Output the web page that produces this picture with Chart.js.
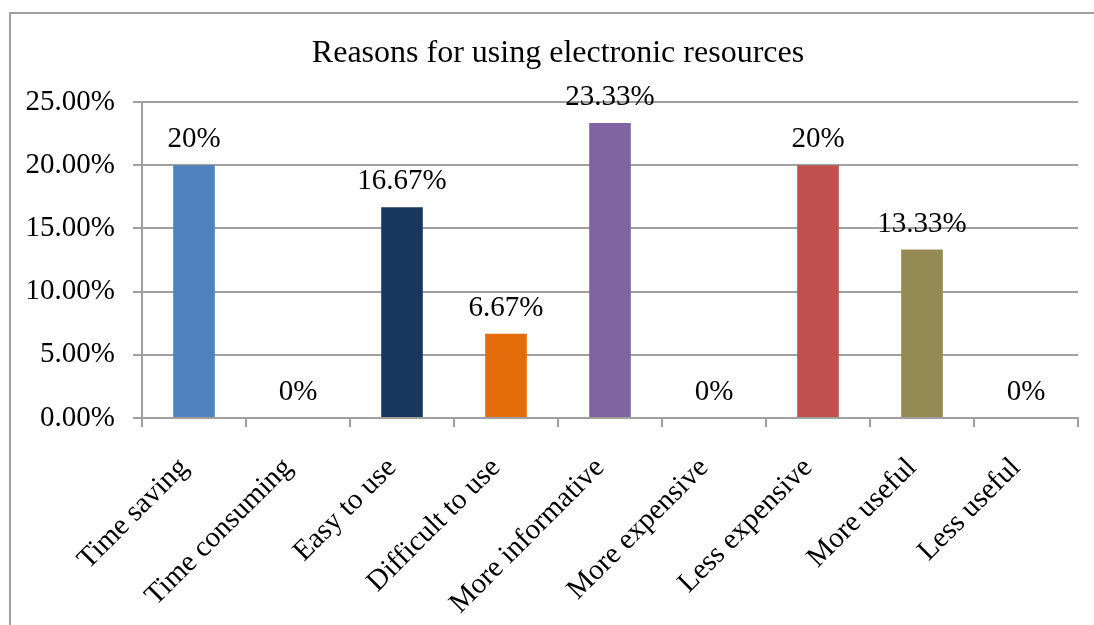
<!DOCTYPE html>
<html>
<head>
<meta charset="utf-8">
<script src="https://cdn.jsdelivr.net/npm/chart.js@4.4.1/dist/chart.umd.min.js"></script>
<style>
  html, body { margin: 0; padding: 0; background: #ffffff; }
  #wrap { width: 1094px; height: 625px; position: relative; }
</style>
</head>
<body>
<div id="wrap"><canvas id="reasonsChart" width="1094" height="625"></canvas></div>
<script>
// Reasons and the share of respondents (percent)
const reasons = ['Time saving', 'Time consuming', 'Easy to use', 'Difficult to use',
  'More informative', 'More expensive', 'Less expensive', 'More useful', 'Less useful'];
const shares = [20, 0, 16.67, 6.67, 23.33, 0, 20, 13.33, 0];
const barColors = ['#4F81BD', '#4F81BD', '#17375E', '#E46C0A', '#8064A2',
  '#8064A2', '#C0504D', '#948A54', '#948A54'];
const chartTitle = 'Reasons for using electronic resources';

const serif = "'Liberation Serif', 'Times New Roman', serif";

// Outer frame and the title, centred over the frame rather than the plot
const framePlugin = {
  id: 'frame',
  beforeDraw(chart) {
    const ctx = chart.ctx;
    ctx.save();
    ctx.strokeStyle = '#a0a0a0';
    ctx.lineWidth = 2;
    ctx.strokeRect(10, 13, 1200, 700);
    ctx.font = '32px ' + serif;
    ctx.fillStyle = '#000000';
    ctx.textAlign = 'center';
    ctx.textBaseline = 'alphabetic';
    ctx.fillText(chartTitle, 558, 62);
    ctx.restore();
  }
};

// Value labels above each bar
const valueLabels = {
  id: 'valueLabels',
  afterDatasetsDraw(chart) {
    const ctx = chart.ctx;
    const meta = chart.getDatasetMeta(0);
    ctx.save();
    ctx.font = '29px ' + serif;
    ctx.fillStyle = '#000000';
    ctx.textAlign = 'center';
    ctx.textBaseline = 'alphabetic';
    meta.data.forEach((bar, i) => {
      ctx.fillText(shares[i] + '%', bar.x, bar.y - 18);
    });
    ctx.restore();
  }
};

new Chart(document.getElementById('reasonsChart'), {
  type: 'bar',
  data: {
    labels: reasons,
    datasets: [{
      data: shares,
      backgroundColor: barColors,
      categoryPercentage: 1,
      barPercentage: 0.4
    }]
  },
  options: {
    responsive: false,
    animation: false,
    layout: { padding: { top: 102, left: 12, right: 16, bottom: 0 } },
    plugins: {
      legend: { display: false },
      tooltip: { enabled: false },
      title: { display: false }
    },
    scales: {
      x: {
        grid: { drawOnChartArea: false, drawTicks: true, tickLength: 9, color: '#a0a0a0', lineWidth: 2 },
        border: { display: true, color: '#a0a0a0', width: 2 },
        ticks: {
          color: '#000000',
          font: { family: serif, size: 29 },
          minRotation: 45,
          maxRotation: 45,
          autoSkip: false,
          padding: 24,
          labelOffset: -10
        },
        afterFit(scale) { scale.height = 207; }
      },
      y: {
        min: 0,
        max: 25,
        grid: { color: '#a0a0a0', lineWidth: 2, tickLength: 9 },
        border: { display: true, color: '#a0a0a0', width: 2 },
        ticks: {
          stepSize: 5,
          color: '#000000',
          font: { family: serif, size: 29 },
          padding: 18,
          callback: (v) => v.toFixed(2) + '%'
        },
        afterFit(scale) { scale.width = 130; }
      }
    }
  },
  plugins: [framePlugin, valueLabels]
});
</script>
</body>
</html>
